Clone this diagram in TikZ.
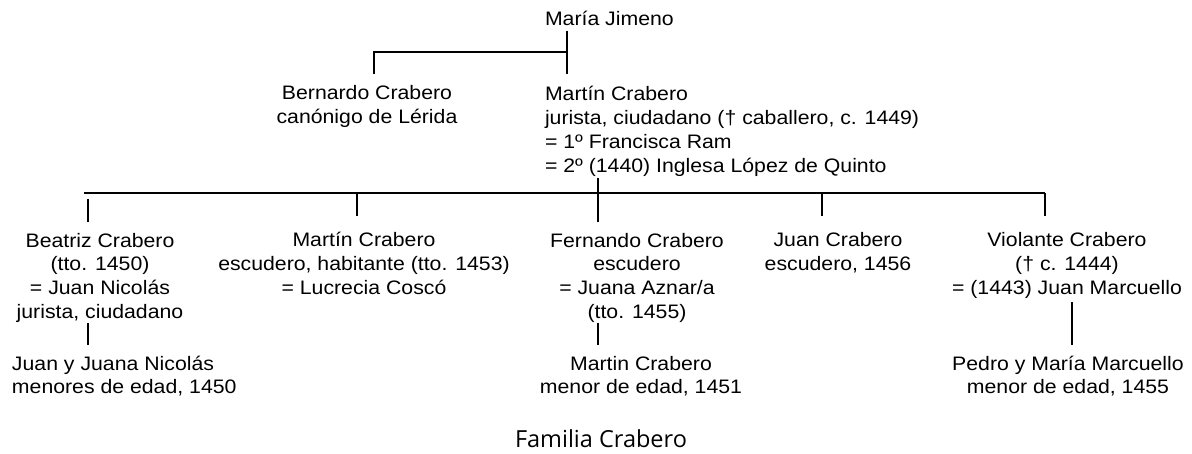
\documentclass[tikz,border=0pt]{standalone}
\usepackage{fontspec}
\setmainfont{Liberation Sans}[FakeStretch=1.09]
\newfontfamily\capfont{Open Sans}
\begin{document}
\begin{tikzpicture}[x=1pt,y=-1pt,
  person/.style={inner sep=0pt,outer sep=0pt,font=\fontsize{19.5}{23.8}\selectfont},
  link/.style={line width=2pt,black}]
\useasboundingbox[fill=white] (0,0) rectangle (1192,454);
\newcommand\fs{\rule{0pt}{19pt}}
% people
\node[person,anchor=base west] (maria) at (545,26) {María Jimeno};
\node[person,anchor=north,align=center] (bernardo) at (367,81) {\fs Bernardo Crabero\\canónigo de Lérida};
\node[person,anchor=north west,align=left] (martin) at (545,82) {\fs Martín Crabero\\jurista, ciudadano († caballero, c. 1449)\\= 1º Francisca Ram\\= 2º (1440) Inglesa López de Quinto};
\node[person,anchor=north,align=center] (beatriz) at (100,228) {\fs Beatriz Crabero\\(tto. 1450)\\= Juan Nicolás\\jurista, ciudadano};
\node[person,anchor=north,align=center] (martinb) at (364,228) {\fs Martín Crabero\\escudero, habitante (tto. 1453)\\= Lucrecia Coscó};
\node[person,anchor=north,align=center] (fernando) at (637,228) {\fs Fernando Crabero\\escudero\\= Juana Aznar/a\\(tto. 1455)};
\node[person,anchor=north,align=center] (juan) at (838,228) {\fs Juan Crabero\\escudero, 1456};
\node[person,anchor=north,align=center] (violante) at (1067,228) {\fs Violante Crabero\\(† c. 1444)\\= (1443) Juan Marcuello};
\node[person,anchor=north west,align=left] (nicolas) at (12,351) {\fs Juan y Juana Nicolás\\menores de edad, 1450};
\node[person,anchor=north,align=center] (martinc) at (641,351) {\fs Martin Crabero\\menor de edad, 1451};
\node[person,anchor=north,align=center] (pedro) at (1068,351) {\fs Pedro y María Marcuello\\menor de edad, 1455};
\node[inner sep=0pt,anchor=base,font=\capfont\fontsize{23.5}{26}\selectfont] (caption) at (601,447) {Familia Crabero};
% junction coordinates
\coordinate (mA) at (567,31);
\coordinate (mB) at (567,52);
\coordinate (mC) at (567,74);
\coordinate (bA) at (374,52);
\coordinate (bB) at (374,74);
\coordinate (fA) at (598,178);
\coordinate (fB) at (598,222);
\coordinate (hL) at (84,193.5);
\coordinate (hR) at (1045,193.5);
\coordinate (eA) at (88,199);
\coordinate (eB) at (88,222);
\coordinate (kA) at (357,193.5);
\coordinate (kB) at (357,216);
\coordinate (jA) at (822,193.5);
\coordinate (jB) at (822,216);
\coordinate (vB) at (1045,216);
\coordinate (cA) at (88,323);
\coordinate (cB) at (88,345);
\coordinate (gA) at (598,323);
\coordinate (gB) at (598,345);
\coordinate (pA) at (1072,302);
\coordinate (pB) at (1072,345);
% connectors
\draw[link] (mA) -- (mC);
\draw[link] (bB) -- (bA) -- (mB);
\draw[link] (fA) -- (fB);
\draw[link] (hL) -- (hR);
\draw[link] (eA) -- (eB);
\draw[link] (kA) -- (kB);
\draw[link] (jA) -- (jB);
\draw[link] (hR) -- (vB);
\draw[link] (cA) -- (cB);
\draw[link] (gA) -- (gB);
\draw[link] (pA) -- (pB);
\end{tikzpicture}
\end{document}
